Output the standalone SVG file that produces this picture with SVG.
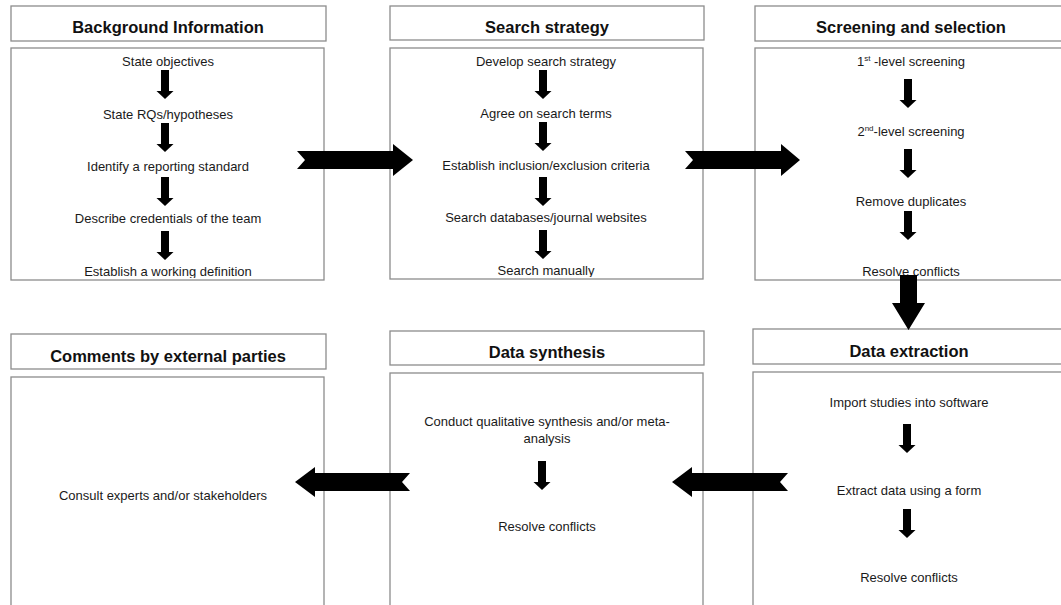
<svg xmlns="http://www.w3.org/2000/svg" width="1061" height="605" viewBox="0 0 1061 605">
  <style>
    .box { fill: #ffffff; stroke: #8c8c8c; stroke-width: 1.3; }
    .head { font-family: "Liberation Sans", Arial, sans-serif; font-weight: bold; font-size: 16.5px; fill: #111; text-anchor: middle; }
    .txt { font-family: "Liberation Sans", Arial, sans-serif; font-size: 13px; fill: #1a1a1a; text-anchor: middle; }
    .sup { font-size: 8px; }
    .arr { fill: #000000; }
  </style>
  <defs>
    <!-- small step arrow, top-centre at origin -->
    <path id="step" class="arr" d="M-4,0 H4 V21 H8.5 L0,29 L-8.5,21 H-4 Z"/>
    <clipPath id="clipBg"><rect x="11" y="48" width="313" height="230"/></clipPath>
    <clipPath id="clipSs"><rect x="390" y="48" width="313" height="229"/></clipPath>
  </defs>

  <rect width="1061" height="605" fill="#ffffff"/>

  <!-- Background Information -->
  <g id="background">
    <rect class="box" x="11" y="6" width="315" height="35"/>
    <text class="head" x="168" y="33">Background Information</text>
    <rect class="box" x="11" y="48" width="313" height="232"/>
    <g clip-path="url(#clipBg)">
      <text class="txt" x="168" y="66">State objectives</text>
      <text class="txt" x="168" y="119">State RQs/hypotheses</text>
      <text class="txt" x="168" y="171">Identify a reporting standard</text>
      <text class="txt" x="168" y="223">Describe credentials of the team</text>
      <text class="txt" x="168" y="276">Establish a working definition</text>
    </g>
    <use href="#step" x="165" y="70"/>
    <use href="#step" x="165" y="123"/>
    <use href="#step" x="165" y="177"/>
    <use href="#step" x="165" y="231"/>
  </g>

  <!-- Search strategy -->
  <g id="search">
    <rect class="box" x="390" y="6" width="314" height="34"/>
    <text class="head" x="547" y="33">Search strategy</text>
    <rect class="box" x="390" y="48" width="313" height="231"/>
    <g clip-path="url(#clipSs)">
      <text class="txt" x="546" y="66">Develop search strategy</text>
      <text class="txt" x="546" y="118">Agree on search terms</text>
      <text class="txt" x="546" y="170">Establish inclusion/exclusion criteria</text>
      <text class="txt" x="546" y="222">Search databases/journal websites</text>
      <text class="txt" x="546" y="275">Search manually</text>
    </g>
    <use href="#step" x="543" y="70"/>
    <use href="#step" x="543" y="122"/>
    <use href="#step" x="543" y="177"/>
    <use href="#step" x="543" y="230"/>
  </g>

  <!-- Screening and selection -->
  <g id="screening">
    <rect class="box" x="755" y="6" width="320" height="35"/>
    <text class="head" x="911" y="33">Screening and selection</text>
    <rect class="box" x="755" y="48" width="320" height="232"/>
    <text class="txt" x="911" y="66">1<tspan class="sup" dy="-5">st</tspan><tspan dy="5"> -level screening</tspan></text>
    <text class="txt" x="911" y="136">2<tspan class="sup" dy="-5">nd</tspan><tspan dy="5">-level screening</tspan></text>
    <text class="txt" x="911" y="206">Remove duplicates</text>
    <text class="txt" x="911" y="276">Resolve conflicts</text>
    <use href="#step" x="908" y="79"/>
    <use href="#step" x="908" y="149"/>
    <use href="#step" x="908" y="211"/>
  </g>

  <!-- Comments by external parties -->
  <g id="comments">
    <rect class="box" x="11" y="334" width="315" height="35"/>
    <text class="head" x="168" y="362">Comments by external parties</text>
    <rect class="box" x="11" y="377" width="313" height="240"/>
    <text class="txt" x="163" y="500">Consult experts and/or stakeholders</text>
  </g>

  <!-- Data synthesis -->
  <g id="synthesis">
    <rect class="box" x="390" y="331" width="314" height="34"/>
    <text class="head" x="547" y="358">Data synthesis</text>
    <rect class="box" x="390" y="373" width="313" height="244"/>
    <text class="txt" x="547" y="426">Conduct qualitative synthesis and/or meta-</text>
    <text class="txt" x="547" y="443">analysis</text>
    <text class="txt" x="547" y="531">Resolve conflicts</text>
    <use href="#step" x="542" y="461"/>
  </g>

  <!-- Data extraction -->
  <g id="extraction">
    <rect class="box" x="753" y="329" width="320" height="35"/>
    <text class="head" x="909" y="357">Data extraction</text>
    <rect class="box" x="753" y="372" width="320" height="245"/>
    <text class="txt" x="909" y="407">Import studies into software</text>
    <text class="txt" x="909" y="495">Extract data using a form</text>
    <text class="txt" x="909" y="582">Resolve conflicts</text>
    <use href="#step" x="907" y="424"/>
    <use href="#step" x="907" y="509"/>
  </g>

  <!-- block arrows between stages -->
  <g id="connectors" class="arr">
    <polygon points="297,151 393,151 393,144 413,160 393,176 393,169 297,169 305,160"/>
    <polygon points="685,151 781,151 781,144 800,160 781,176 781,169 685,169 693,160"/>
    <polygon points="900,275 917,275 917,303 925,303 908.5,330 892,303 900,303"/>
    <polygon points="788,473 692,473 692,467 672,482 692,497 692,491 788,491 780,482"/>
    <polygon points="410,473 315,473 315,467 295,482 315,497 315,491 410,491 402,482"/>
  </g>
</svg>
